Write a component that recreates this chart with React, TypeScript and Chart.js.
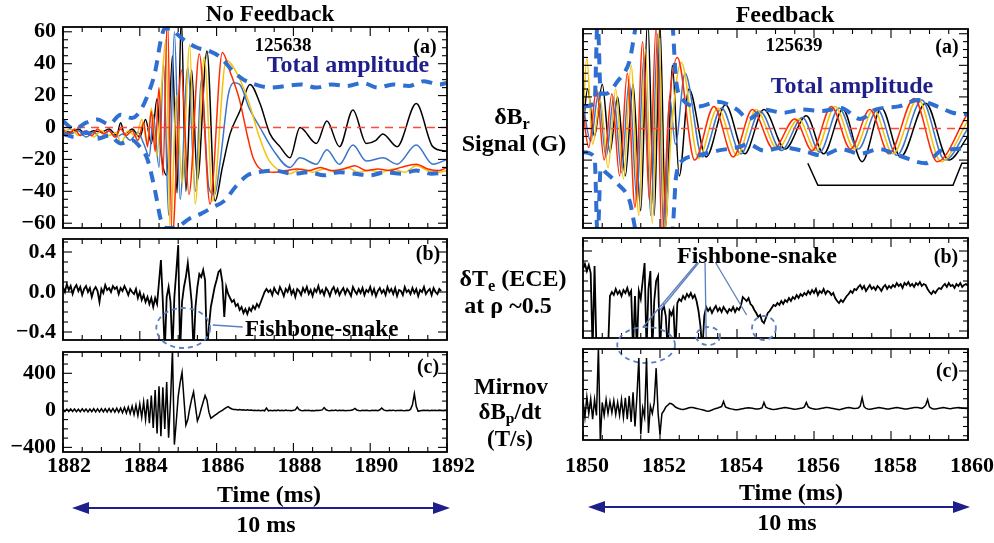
import React, { useEffect, useRef } from "react";
import { Chart, registerables } from "chart.js";

Chart.register(...registerables);

const SERIF = "'Liberation Serif', 'DejaVu Serif', 'Noto Serif', 'Times New Roman', serif";

// ---------------- axes ----------------
const leftTimeTicks = [1882, 1884, 1886, 1888, 1890, 1892];
const rightTimeTicks = [1850, 1852, 1854, 1856, 1858, 1860];
const ampTicks = [-60, -40, -20, 0, 20, 40, 60];
const eceTicks = [-0.4, 0, 0.4];
const mirTicks = [-400, 0, 400];

// ---------------- No Feedback (a) : dB_r signals (G) ----------------
const lRedT = [1882.0,1882.15,1882.3,1882.45,1882.6,1882.75,1882.9,1883.05,1883.2,1883.35,1883.5,1883.65,1883.8,1883.95,1884.1,1884.2,1884.3,1884.4,1884.5,1884.6,1884.72,1884.84,1885.08,1885.28,1885.55,1885.83,1886.15,1886.35,1886.6,1886.8,1886.95,1887.2,1887.5,1887.8,1888.1,1888.4,1888.7,1889.0,1889.3,1889.6,1889.9,1890.2,1890.5,1890.8,1891.2,1891.5,1891.8,1892.0];
const lRedV = [-2,-4,-1,-5,-2,-5,-1,-4,-2,-6,-1,-5,-2,-8,3,-12,10,-15,25,-30,70,-70,36,-42,46,-48,47,35,17,-5,-19,-27,-28,-27,-26,-27,-25,-27,-26,-24,-27,-26,-27,-25,-23,-26,-27,-25];

const lYelT = [1882.0,1882.2,1882.4,1882.6,1882.8,1883.0,1883.2,1883.4,1883.5,1883.7,1883.9,1884.05,1884.2,1884.3,1884.45,1884.58,1884.68,1884.8,1884.95,1885.1,1885.3,1885.44,1885.68,1885.9,1886.25,1886.55,1886.85,1887.1,1887.35,1887.7,1887.9,1888.2,1888.5,1888.8,1889.1,1889.4,1889.7,1890.0,1890.3,1890.6,1890.9,1891.2,1891.5,1891.8,1892.0];
const lYelV = [-3,-1,-5,-3,-6,-2,-5,-3,-10,-2,-6,5,-10,12,-18,30,55,-70,20,-35,52,-48,44,-46,42,33,15,-5,-20,-28,-29,-26,-28,-26,-28,-25,-28,-27,-28,-26,-28,-24,-27,-28,-27];

const lBluT = [1882.0,1882.2,1882.4,1882.6,1882.8,1883.0,1883.2,1883.4,1883.55,1883.75,1883.95,1884.1,1884.25,1884.35,1884.5,1884.62,1884.75,1884.9,1885.05,1885.25,1885.45,1885.6,1885.8,1885.95,1886.1,1886.3,1886.45,1886.6,1886.85,1887.13,1887.47,1887.91,1888.17,1888.6,1888.87,1889.2,1889.55,1889.9,1890.33,1890.7,1891.2,1891.63,1892.0];
const lBluV = [-1,-4,-2,-6,-3,-7,-2,-6,-4,-8,-3,-10,-18,8,-25,40,-55,60,-45,38,-40,30,-38,-42,-20,20,28,27,12,0,-14,-25,-19,-23,-14,-23,-11,-21,-19,-23,-11,-23,-20];

const lBlkT = [1882.0,1882.2,1882.4,1882.6,1882.8,1883.0,1883.2,1883.4,1883.5,1883.6,1883.8,1884.0,1884.15,1884.3,1884.45,1884.55,1884.7,1884.85,1884.97,1885.08,1885.2,1885.35,1885.5,1885.75,1885.96,1886.15,1886.35,1886.6,1886.87,1887.13,1887.39,1887.65,1887.91,1888.17,1888.6,1888.87,1889.2,1889.55,1889.9,1890.15,1890.33,1890.7,1891.2,1891.63,1892.0];
const lBlkV = [-2,-3,-1,-4,-2,-3,-1,-5,3,-4,-1,-6,5,-10,18,-15,-30,45,-41,70,-40,36,-33,48,-46,-25,-4,10,27,15,-4,-12,-19,0,-10,4,-12,11,-10,-8,-4,-12,15,-12,-15];

const lEnvUpT = [1882.0,1882.3,1882.6,1882.9,1883.2,1883.5,1883.8,1884.0,1884.2,1884.4,1884.55,1884.65,1884.8,1885.0,1885.2,1885.5,1885.8,1886.1,1886.4,1886.7,1887.0,1887.4,1887.8,1888.2,1888.6,1889.0,1889.4,1889.8,1890.2,1890.6,1891.0,1891.4,1891.8,1892.0];
const lEnvUpV = [4,-1,3,5,2,8,6,10,20,35,55,62,62,58,54,50,48,44,36,30,27,25,26,27,25,27,26,28,25,27,26,29,27,28];
const lEnvLoT = [1882.0,1882.3,1882.6,1882.9,1883.2,1883.5,1883.8,1884.0,1884.2,1884.4,1884.55,1884.7,1885.0,1885.3,1885.6,1885.9,1886.2,1886.5,1886.8,1887.1,1887.5,1888.0,1888.4,1888.8,1889.2,1889.6,1890.0,1890.4,1890.8,1891.2,1891.6,1892.0];
const lEnvLoV = [-4,-6,-3,-7,-5,-10,-8,-12,-20,-40,-58,-63,-62,-57,-54,-50,-46,-37,-30,-28,-27,-29,-28,-30,-28,-29,-30,-28,-29,-27,-29,-28];

// ---------------- No Feedback (b) : ECE, sampled every 0.05 ms from 1882 ----------------
const lEceStart = 1882;
const eceStep = 0.05;
const lEceVals = [0.05,0.0,0.08,0.02,0.06,-0.02,0.04,0.07,0.01,0.05,
-0.03,0.03,0.06,0.0,0.04,-0.05,0.02,0.05,0.01,-0.1,
0.03,-0.01,0.07,0.02,0.04,0.0,0.06,0.03,0.05,-0.02,
0.04,0.01,0.06,0.02,-0.03,0.03,0.0,
-0.02,0.03,-0.06,0.0,-0.08,-0.03,-0.1,-0.05,-0.12,-0.06,-0.15,
-0.06,-0.12,0.1,0.32,-0.1,-0.6,-0.05,0.05,-0.1,-0.6,
-0.05,0.2,0.47,-0.6,-0.1,0.05,0.15,0.29,0.1,-0.1,
-0.6,-0.15,0.05,0.18,0.15,0.22,0.12,-0.6,-0.35,-0.15,
-0.05,0.05,0.12,0.2,0.22,0.1,-0.25,0.05,-0.02,-0.06,
-0.1,-0.08,-0.14,-0.12,-0.18,-0.15,-0.21,-0.17,-0.22,-0.16,
-0.19,-0.14,-0.17,-0.12,-0.15,-0.1,-0.05,0.0,0.03,0.0,
0.02,-0.03,0.04,0.0,-0.02,0.05,0.01,-0.04,0.03,0.0,
0.06,-0.02,0.02,-0.05,0.03,0.01,-0.03,0.04,0.0,0.05,
-0.02,0.02,-0.04,0.03,0.0,0.06,-0.01,0.02,-0.03,0.04,
0.01,-0.04,0.02,0.05,-0.01,0.03,-0.03,0.01,0.04,-0.02,
0.03,0.0,-0.04,0.05,0.01,-0.02,0.03,-0.01,0.04,-0.03,
0.02,0.0,0.05,-0.02,0.03,-0.04,0.01,0.04,-0.01,0.02,
-0.03,0.05,0.0,0.03,-0.02,0.04,-0.04,0.02,0.01,-0.03,
0.05,0.0,0.02,-0.02,0.04,-0.01,0.03,-0.04,0.02,0.0,
0.05,-0.02,0.01,0.03,-0.03,0.04,0.0,-0.02,0.03,0.01];

// ---------------- No Feedback (c) : Mirnov, sampled every 0.05 ms from 1882 ----------------
const lMirStart = 1882;
const mirStep = 0.05;
const lMirVals = [12,-14,13,-12,15,-13,14,-15,12,-14,16,-13,15,-16,14,-15,17,-16,15,-17,18,-16,17,-18,19,-17,20,-19,22,-21,
24,-26,30,-30,36,-36,44,-46,55,-58,70,-75,90,-100,120,-140,160,-190,220,-250,260,-280,250,-200,
305,-295,100,650,-370,-120,150,300,410,120,-160,-100,20,120,200,40,-115,-60,20,90,160,110,-20,-85,-70,-55,-40,-25,-12,0,15,30,40,25,15,10,
8,5,10,4,6,2,5,0,3,-2,
2,-3,0,-4,1,-5,25,-6,0,-4,
1,-3,2,-5,0,-4,2,-3,-1,-5,
0,5,35,8,-2,-4,0,-3,1,-5,
-2,-4,0,-2,2,5,30,6,-2,-5,
0,-3,2,-4,0,-2,1,-5,-1,-3,
2,6,20,4,-2,-4,0,-3,1,-2,
-4,0,-2,2,-3,6,25,5,-3,-4,
0,-2,2,-4,-1,-3,1,-2,-4,0,
-2,10,60,180,40,-10,-5,-2,0,-3,
1,-4,0,-2,2,-3,0,-1,-4,0,
-2,1,-3,0,2,-1];

// ---------------- Feedback (a) ----------------
const rRedT = [1850.0,1850.15,1850.35,1850.55,1850.75,1850.95,1851.15,1851.35,1851.55,1851.72,1851.9,1852.05,1852.22,1852.45,1852.9,1853.4,1853.9,1854.4,1854.95,1855.5,1855.95,1856.45,1856.95,1857.45,1857.95,1858.6,1859.2,1860.0];
const rRedV = [10,-12,25,-20,22,-30,35,-50,55,-45,65,-70,10,45,-20,14,-18,12,-13,6,-14,14,-13,12,-16,19,-21,10];
const rYelT = [1850.0,1850.1,1850.25,1850.45,1850.65,1850.85,1851.05,1851.25,1851.45,1851.62,1851.8,1851.97,1852.12,1852.3,1852.55,1853.0,1853.5,1854.0,1854.5,1855.05,1855.6,1856.05,1856.55,1857.05,1857.55,1858.05,1858.7,1859.3,1860.0];
const rYelV = [5,45,-10,18,-25,25,-32,40,-55,50,-60,62,-65,0,42,-19,13,-17,12,-13,6,-14,14,-13,12,-16,19,-21,5];
const rBluT = [1850.0,1850.2,1850.4,1850.6,1850.8,1851.0,1851.2,1851.4,1851.58,1851.76,1851.94,1852.1,1852.25,1852.4,1852.65,1853.1,1853.6,1854.1,1854.6,1855.15,1855.7,1856.15,1856.65,1857.15,1857.65,1858.15,1858.8,1859.4,1860.0];
const rBluV = [15,-8,22,-18,20,-28,30,-45,45,-55,60,-68,20,-10,35,-18,13,-16,11,-14,7,-15,13,-13,12,-17,18,-20,0];
const rBlkT = [1850.0,1850.12,1850.3,1850.5,1850.7,1850.9,1851.1,1851.3,1851.5,1851.68,1851.85,1852.0,1852.15,1852.32,1852.5,1852.75,1853.2,1853.7,1854.2,1854.7,1855.25,1855.8,1856.25,1856.75,1857.25,1857.75,1858.25,1858.9,1859.5,1860.0];
const rBlkV = [0,25,-5,28,-15,20,-30,28,-52,70,-55,65,-62,40,-30,25,-18,15,-16,12,-13,8,-16,12,-21,13,-18,16,-20,-5];

const rEnvUpT = [1850.0,1850.3,1850.38,1850.46,1850.6,1850.9,1851.2,1851.45,1852.3,1852.42,1852.6,1853.0,1853.5,1854.0,1854.3,1854.7,1855.2,1855.7,1856.2,1856.7,1857.2,1857.6,1858.2,1858.7,1859.2,1859.6,1860.0];
const rEnvUpV = [14,16,70,22,22,30,42,70,70,30,18,14,17,12,6,12,10,12,11,13,6,12,14,18,14,10,9];
const rEnvLoT = [1850.0,1850.3,1850.38,1850.46,1850.6,1850.9,1851.2,1851.45,1852.3,1852.42,1852.6,1853.0,1853.5,1854.0,1854.3,1854.7,1855.2,1855.7,1856.2,1856.7,1857.2,1857.7,1858.2,1858.9,1859.3,1859.7,1860.0];
const rEnvLoV = [-15,-18,-70,-25,-28,-35,-45,-70,-70,-30,-20,-17,-14,-12,-10,-14,-12,-14,-17,-13,-16,-13,-17,-22,-14,-13,-12];

const rBracketT = [1855.84, 1856.1, 1859.61, 1859.84, 1860.0];
const rBracketV = [-22, -36, -36, -22, -22];

// ---------------- Feedback (b) : ECE, every 0.05 ms from 1850 ----------------
const rEceStart = 1850;
const rEceVals = [0.22,0.27,0.2,0.26,0.18,-0.6,0.25,-0.6,-0.6,-0.6,-0.6,-0.6,-0.6,-0.6,
-0.05,-0.01,-0.04,0.02,-0.03,0.0,-0.05,0.01,-0.02,0.03,-0.04,0.0,
-0.6,-0.05,-0.6,0.0,-0.08,0.1,0.28,-0.6,0.02,0.2,-0.6,-0.1,0.1,0.15,-0.6,-0.2,-0.15,-0.25,-0.6,-0.2,-0.24,-0.18,-0.6,
-0.12,-0.08,-0.1,-0.05,-0.08,-0.03,-0.06,-0.02,-0.07,-0.04,
-0.1,-0.2,-0.35,-0.6,
-0.25,-0.16,-0.2,-0.17,-0.22,-0.18,-0.15,-0.2,-0.17,-0.21,-0.16,-0.19,-0.22,-0.18,-0.2,-0.16,-0.21,-0.17,-0.19,-0.15,
-0.06,-0.08,-0.1,-0.07,-0.13,-0.15,-0.19,-0.22,-0.26,-0.24,-0.3,-0.32,-0.27,-0.22,-0.2,-0.17,-0.14,
-0.15,-0.12,-0.14,-0.1,-0.13,-0.09,-0.11,-0.07,-0.1,-0.06,-0.08,-0.04,-0.07,-0.03,-0.05,-0.02,-0.04,
0.0,-0.03,0.01,-0.02,0.02,-0.04,0.0,-0.02,0.02,-0.03,0.0,-0.01,-0.04,-0.02,
-0.07,-0.1,-0.12,-0.09,-0.11,-0.08,-0.05,-0.03,0.0,
-0.02,0.02,0.01,0.04,0.06,0.02,0.05,0.0,0.03,0.06,0.02,0.04,0.01,0.05,0.03,0.0,0.04,0.06,0.02,0.05,0.03,
0.06,0.04,0.08,0.05,0.07,0.03,0.08,0.06,0.09,0.05,0.07,0.04,0.08,0.06,0.09,0.05,0.07,0.06,
0.02,-0.01,-0.03,0.0,-0.02,0.01,0.03,0.02,0.05,
0.07,0.04,0.08,0.05,0.06,0.03,0.07,0.05,0.08,0.04,0.06,0.07,0.05,0.08,0.04,0.06,0.05,0.07];

// ---------------- Feedback (c) : Mirnov, every 0.05 ms from 1850 ----------------
const rMirStart = 1850;
const rMirVals = [80,-100,120,-60,100,-120,90,-80,650,-360,
60,-80,90,-60,70,-50,80,-70,60,-80,90,-100,110,-120,130,-150,170,-200,120,
540,-285,0,-100,540,-270,20,-60,60,430,-50,-285,-60,-30,10,30,50,45,30,10,
0,-8,-14,-16,-12,-5,2,6,4,0,
-5,-10,-15,-20,-25,-32,-35,-30,-22,-12,
-5,0,8,15,70,10,2,-5,-10,-15,
-18,-20,-16,-12,-8,-4,0,2,0,-4,
-8,-12,-10,-6,0,60,8,-2,-8,-14,
-16,-14,-10,-6,-2,2,4,2,-2,-6,
-10,-14,-12,-8,-4,0,10,60,12,0,
-6,-10,-14,-12,-8,-4,0,4,6,2,
-2,-6,-10,-14,-18,-14,-8,-2,2,4,
2,-2,-6,-4,0,20,110,15,-5,-10,
-14,-10,-6,-2,2,4,0,-4,-8,-12,
-10,-6,-2,2,4,2,-2,-6,-10,-12,
-8,-4,0,4,6,4,0,-4,10,30,
90,12,-4,-10,-12,-8,-4,0,4,2,
-2,-6,-8,-4,0,2,4,2,-2,-4,
-6,-2,0,2,0,-2,-1];

// ---------------- annotations (data coordinates) ----------------
const lFishEllipses = [{ t: 1885.13, v: -0.36, rt: 0.7, rv: 0.2 }];
const lFishLines = [{ t1: 1885.9, v1: -0.33, t2: 1886.68, v2: -0.35 }];
const rFishEllipses = [
  { t: 1851.64, v: -0.54, rt: 0.75, rv: 0.18 },
  { t: 1853.25, v: -0.45, rt: 0.31, rv: 0.09 },
  { t: 1854.7, v: -0.37, rt: 0.31, rv: 0.12 },
];
const rFishLines = [
  { t1: 1852.96, v1: 0.28, t2: 1851.56, v2: -0.36 },
  { t1: 1853.0, v1: 0.28, t2: 1852.0, v2: -0.19 },
  { t1: 1853.17, v1: 0.28, t2: 1853.2, v2: -0.46 },
  { t1: 1853.45, v1: 0.28, t2: 1854.25, v2: -0.24 },
];

// ---------------- colours ----------------
const C_BLACK = "#000000";
const C_YEL = "#f4c20d";
const C_BLU = "#3b74c9";
const C_RED = "#ff2a00";
const C_ENV = "#2f6fd2";
const C_ZERO = "#ff4a3a";
const C_NAVY = "#1f1f8c";
const C_ANN = "#5b7fc0";

// ---------------- helpers ----------------
const pts = (ts: number[], vs: number[]) => ts.map((t, i) => ({ x: t, y: vs[i] }));
const gridPts = (start: number, step: number, vs: number[]) => vs.map((v, i) => ({ x: start + i * step, y: v }));

const smooth = (data: any[], color: string, width = 1.5) => ({
  data, borderColor: color, borderWidth: width, pointRadius: 0, fill: false, cubicInterpolationMode: "monotone",
});
const sharp = (data: any[], color: string, width = 1.5) => ({
  data, borderColor: color, borderWidth: width, pointRadius: 0, fill: false, tension: 0,
});
const envelope = (data: any[]) => ({
  data, borderColor: C_ENV, borderWidth: 4, borderDash: [11, 8], pointRadius: 0, fill: false, cubicInterpolationMode: "monotone",
});
const zeroLine = (x0: number, x1: number) => ({
  data: [{ x: x0, y: 0 }, { x: x1, y: 0 }], borderColor: C_ZERO, borderWidth: 1.5, borderDash: [8, 6], pointRadius: 0, fill: false,
});

function fmtInt(v: number) {
  if (v === 0) return "0";
  return v < 0 ? "\u2212" + Math.abs(v) : String(v);
}
function fmt1(v: number) {
  if (Math.abs(v) < 1e-9) return "0.0";
  return v < 0 ? "\u2212" + Math.abs(v).toFixed(1) : v.toFixed(1);
}

function makeIdl(xMajor: number[], xMinor: number, yMajor: number[], yMinor: number) {
  return {
    id: "idlBox",
    afterDatasetsDraw(chart: any) {
      const { ctx, chartArea: a, scales } = chart;
      const xs = scales.x, ys = scales.y;
      const isMajor = (v: number, list: number[]) => list.some((m) => Math.abs(m - v) < 1e-6);
      ctx.save();
      ctx.strokeStyle = "#000";
      ctx.lineWidth = 1.1;
      const seg = (x1: number, y1: number, x2: number, y2: number) => {
        ctx.beginPath(); ctx.moveTo(x1, y1); ctx.lineTo(x2, y2); ctx.stroke();
      };
      const x0 = Math.ceil(xs.min / xMinor - 1e-9);
      for (let k = x0; k * xMinor <= xs.max + 1e-9; k++) {
        const v = k * xMinor;
        const px = xs.getPixelForValue(v);
        const len = isMajor(v, xMajor) ? 9 : 5;
        seg(px, a.bottom, px, a.bottom - len);
        seg(px, a.top, px, a.top + len);
      }
      const y0 = Math.ceil(ys.min / yMinor - 1e-9);
      for (let k = y0; k * yMinor <= ys.max + 1e-9; k++) {
        const v = k * yMinor;
        const py = ys.getPixelForValue(v);
        const len = isMajor(v, yMajor) ? 9 : 5;
        seg(a.left, py, a.left + len, py);
        seg(a.right, py, a.right - len, py);
      }
      ctx.lineWidth = 1.8;
      ctx.strokeRect(a.left, a.top, a.right - a.left, a.bottom - a.top);
      ctx.restore();
    },
  };
}

function makeAnnot(spec: any) {
  return {
    id: "annot",
    afterDraw(chart: any) {
      if (!spec) return;
      const { ctx, chartArea: a, scales } = chart;
      const xs = scales.x, ys = scales.y;
      ctx.save();
      (spec.ellipses || []).forEach((e: any) => {
        const cx = xs.getPixelForValue(e.t), cy = ys.getPixelForValue(e.v);
        const rx = Math.abs(xs.getPixelForValue(e.t + e.rt) - cx);
        const ry = Math.abs(ys.getPixelForValue(e.v + e.rv) - cy);
        ctx.beginPath();
        ctx.setLineDash([5, 4]);
        ctx.strokeStyle = C_ANN;
        ctx.lineWidth = 1.8;
        ctx.ellipse(cx, cy, rx, ry, 0, 0, Math.PI * 2);
        ctx.stroke();
      });
      ctx.setLineDash([]);
      (spec.lines || []).forEach((l: any) => {
        ctx.beginPath();
        ctx.strokeStyle = C_ANN;
        ctx.lineWidth = 1.3;
        ctx.moveTo(xs.getPixelForValue(l.t1), ys.getPixelForValue(l.v1));
        ctx.lineTo(xs.getPixelForValue(l.t2), ys.getPixelForValue(l.v2));
        ctx.stroke();
      });
      if (spec.arrow) {
        const x1 = xs.getPixelForValue(xs.min) + spec.arrow.dx1;
        const x2 = xs.getPixelForValue(xs.max) + spec.arrow.dx2;
        const y = a.bottom + spec.arrow.dy;
        ctx.strokeStyle = C_NAVY;
        ctx.fillStyle = C_NAVY;
        ctx.lineWidth = 2;
        ctx.beginPath(); ctx.moveTo(x1 + 8, y); ctx.lineTo(x2 - 8, y); ctx.stroke();
        ctx.beginPath(); ctx.moveTo(x1, y); ctx.lineTo(x1 + 17, y - 6); ctx.lineTo(x1 + 17, y + 6); ctx.closePath(); ctx.fill();
        ctx.beginPath(); ctx.moveTo(x2, y); ctx.lineTo(x2 - 17, y - 6); ctx.lineTo(x2 - 17, y + 6); ctx.closePath(); ctx.fill();
      }
      ctx.restore();
    },
  };
}

type Panel = {
  datasets: any[];
  xMin: number; xMax: number; yMin: number; yMax: number;
  xTicks: number[]; yTicks: number[]; xMinor: number; yMinor: number;
  showX: boolean; showY: boolean; yFmt?: (v: number) => string;
  pad: { top: number; right: number; bottom: number; left: number };
  xPad?: number; xOffset?: number; annot?: any;
};

function buildConfig(p: Panel) {
  const tickFont = { family: SERIF, size: 22, weight: "bold" };
  return {
    type: "line",
    data: { datasets: p.datasets },
    options: {
      animation: false,
      responsive: false,
      devicePixelRatio: 1,
      events: [],
      layout: { padding: p.pad },
      plugins: { legend: { display: false }, tooltip: { enabled: false } },
      scales: {
        x: {
          type: "linear", min: p.xMin, max: p.xMax, display: p.showX,
          grid: { display: false, drawTicks: false }, border: { display: false },
          ticks: {
            font: tickFont, color: "#000", padding: p.xPad ?? 2, labelOffset: p.xOffset ?? 0,
            maxRotation: 0, autoSkip: false, callback: (v: number) => String(v),
          },
          afterBuildTicks: (s: any) => { s.ticks = p.xTicks.map((v) => ({ value: v })); },
          afterFit: (s: any) => {
            if (p.showX) s.height = 40; else s.height = 0;
            s.paddingLeft = 0; s.paddingRight = 0;
          },
        },
        y: {
          type: "linear", min: p.yMin, max: p.yMax, display: p.showY,
          grid: { display: false, drawTicks: false }, border: { display: false },
          ticks: {
            font: tickFont, color: "#000", padding: 7, autoSkip: false,
            callback: (v: number) => (p.yFmt ? p.yFmt(v) : String(v)),
          },
          afterBuildTicks: (s: any) => { s.ticks = p.yTicks.map((v) => ({ value: v })); },
          afterFit: (s: any) => {
            if (p.showY) s.width = 63; else s.width = 0;
            s.paddingTop = 0; s.paddingBottom = 0;
          },
        },
      },
    },
    plugins: [makeIdl(p.xTicks, 0.5, p.yTicks, p.yMinor), makeAnnot(p.annot)],
  };
}

function ChartBox({ left, top, width, height, panel }: { left: number; top: number; width: number; height: number; panel: Panel }) {
  const ref = useRef<HTMLCanvasElement>(null);
  useEffect(() => {
    const chart = new Chart(ref.current as HTMLCanvasElement, buildConfig(panel) as any);
    return () => chart.destroy();
  }, []);
  return (
    <canvas ref={ref} width={width} height={height}
      style={{ position: "absolute", left, top, width, height, display: "block" }} />
  );
}

function Txt({ x, y, size, color = "#000", anchor = "center", children }: any) {
  return (
    <div style={{
      position: "absolute", left: x, top: y,
      transform: anchor === "left" ? "translate(0,-50%)" : "translate(-50%,-50%)",
      fontFamily: SERIF, fontWeight: "bold", fontSize: size, color, whiteSpace: "nowrap", lineHeight: 1,
    }}>{children}</div>
  );
}

const subStyle = { fontSize: "0.68em", verticalAlign: "-0.3em", lineHeight: 0 } as any;

export default function App() {
  const leftA: Panel = {
    datasets: [
      envelope(pts(lEnvUpT, lEnvUpV)), envelope(pts(lEnvLoT, lEnvLoV)),
      zeroLine(1882, 1892),
      smooth(pts(lRedT, lRedV), C_RED), smooth(pts(lYelT, lYelV), C_YEL),
      smooth(pts(lBluT, lBluV), C_BLU), smooth(pts(lBlkT, lBlkV), C_BLACK),
    ],
    xMin: 1882, xMax: 1892, yMin: -63, yMax: 63, xTicks: leftTimeTicks, yTicks: ampTicks,
    xMinor: 0.5, yMinor: 5, showX: false, showY: true, yFmt: fmtInt,
    pad: { top: 27, right: 43, bottom: 12, left: 0 },
  };
  const leftB: Panel = {
    datasets: [sharp(gridPts(lEceStart, eceStep, lEceVals), C_BLACK, 1.8)],
    xMin: 1882, xMax: 1892, yMin: -0.48, yMax: 0.53, xTicks: leftTimeTicks, yTicks: eceTicks,
    xMinor: 0.5, yMinor: 0.1, showX: false, showY: true, yFmt: fmt1,
    pad: { top: 9, right: 43, bottom: 20, left: 0 },
    annot: { ellipses: lFishEllipses, lines: lFishLines },
  };
  const leftC: Panel = {
    datasets: [sharp(gridPts(lMirStart, mirStep, lMirVals), C_BLACK, 1.5)],
    xMin: 1882, xMax: 1892, yMin: -450, yMax: 630, xTicks: leftTimeTicks, yTicks: mirTicks,
    xMinor: 0.5, yMinor: 100, showX: true, showY: true, yFmt: fmtInt,
    pad: { top: 7, right: 43, bottom: 51, left: 0 }, xPad: 1, xOffset: 6,
    annot: { arrow: { dx1: 9, dx2: 3, dy: 56 } },
  };
  const rightA: Panel = {
    datasets: [
      envelope(pts(rEnvUpT, rEnvUpV)), envelope(pts(rEnvLoT, rEnvLoV)),
      zeroLine(1850, 1860),
      sharp(pts(rBracketT, rBracketV), C_BLACK, 1.5),
      smooth(pts(rRedT, rRedV), C_RED), smooth(pts(rYelT, rYelV), C_YEL),
      smooth(pts(rBluT, rBluV), C_BLU), smooth(pts(rBlkT, rBlkV), C_BLACK),
    ],
    xMin: 1850, xMax: 1860, yMin: -63, yMax: 63, xTicks: rightTimeTicks, yTicks: ampTicks,
    xMinor: 0.5, yMinor: 5, showX: false, showY: false,
    pad: { top: 29, right: 26, bottom: 12, left: 63 },
  };
  const rightB: Panel = {
    datasets: [sharp(gridPts(rEceStart, eceStep, rEceVals), C_BLACK, 1.8)],
    xMin: 1850, xMax: 1860, yMin: -0.47, yMax: 0.53, xTicks: rightTimeTicks, yTicks: eceTicks,
    xMinor: 0.5, yMinor: 0.1, showX: false, showY: false,
    pad: { top: 10, right: 26, bottom: 30, left: 63 },
    annot: { ellipses: rFishEllipses, lines: rFishLines },
  };
  const rightC: Panel = {
    datasets: [sharp(gridPts(rMirStart, mirStep, rMirVals), C_BLACK, 1.5)],
    xMin: 1850, xMax: 1860, yMin: -346, yMax: 637, xTicks: rightTimeTicks, yTicks: mirTicks,
    xMinor: 0.5, yMinor: 100, showX: true, showY: false,
    pad: { top: 7, right: 26, bottom: 63, left: 63 }, xPad: 13, xOffset: 4,
    annot: { arrow: { dx1: 5, dx2: 2, dy: 67 } },
  };

  return (
    <div style={{ position: "absolute", left: 0, top: 0, width: 994, height: 543, background: "#fff", overflow: "hidden" }}>
      <ChartBox left={0} top={0} width={490} height={240} panel={leftA} />
      <ChartBox left={0} top={230} width={490} height={130} panel={leftB} />
      <ChartBox left={0} top={345} width={490} height={198} panel={leftC} />
      <ChartBox left={520} top={0} width={474} height={240} panel={rightA} />
      <ChartBox left={520} top={228} width={474} height={140} panel={rightB} />
      <ChartBox left={520} top={342} width={474} height={201} panel={rightC} />

      <Txt x={270} y={13} size={23}>No Feedback</Txt>
      <Txt x={785} y={14} size={24}>Feedback</Txt>
      <Txt x={283} y={44} size={19}>125638</Txt>
      <Txt x={794} y={44} size={19}>125639</Txt>
      <Txt x={425} y={46} size={20}>(a)</Txt>
      <Txt x={947} y={46} size={20}>(a)</Txt>
      <Txt x={348} y={64} size={24} color={C_NAVY}>Total amplitude</Txt>
      <Txt x={852} y={85} size={24} color={C_NAVY}>Total amplitude</Txt>
      <Txt x={428} y={253} size={20}>(b)</Txt>
      <Txt x={946} y={256} size={20}>(b)</Txt>
      <Txt x={428} y={366} size={20}>(c)</Txt>
      <Txt x={947} y={370} size={20}>(c)</Txt>
      <Txt x={245} y={328} size={23} anchor="left">Fishbone-snake</Txt>
      <Txt x={757} y={255} size={24}>Fishbone-snake</Txt>

      <Txt x={512} y={116} size={24}>&delta;B<sub style={subStyle}>r</sub></Txt>
      <Txt x={514} y={143} size={24}>Signal (G)</Txt>
      <Txt x={513} y={278} size={24}>&delta;T<sub style={subStyle}>e</sub> (ECE)</Txt>
      <Txt x={508} y={305} size={24}>at &rho; ~0.5</Txt>
      <Txt x={511} y={386} size={23}>Mirnov</Txt>
      <Txt x={510} y={411} size={23}>&delta;B<sub style={subStyle}>p</sub>/dt</Txt>
      <Txt x={510} y={438} size={23}>(T/s)</Txt>

      <Txt x={269} y={494} size={24}>Time (ms)</Txt>
      <Txt x={791} y={492} size={24}>Time (ms)</Txt>
      <Txt x={266} y={524} size={24}>10 ms</Txt>
      <Txt x={787} y={522} size={24}>10 ms</Txt>
    </div>
  );
}
